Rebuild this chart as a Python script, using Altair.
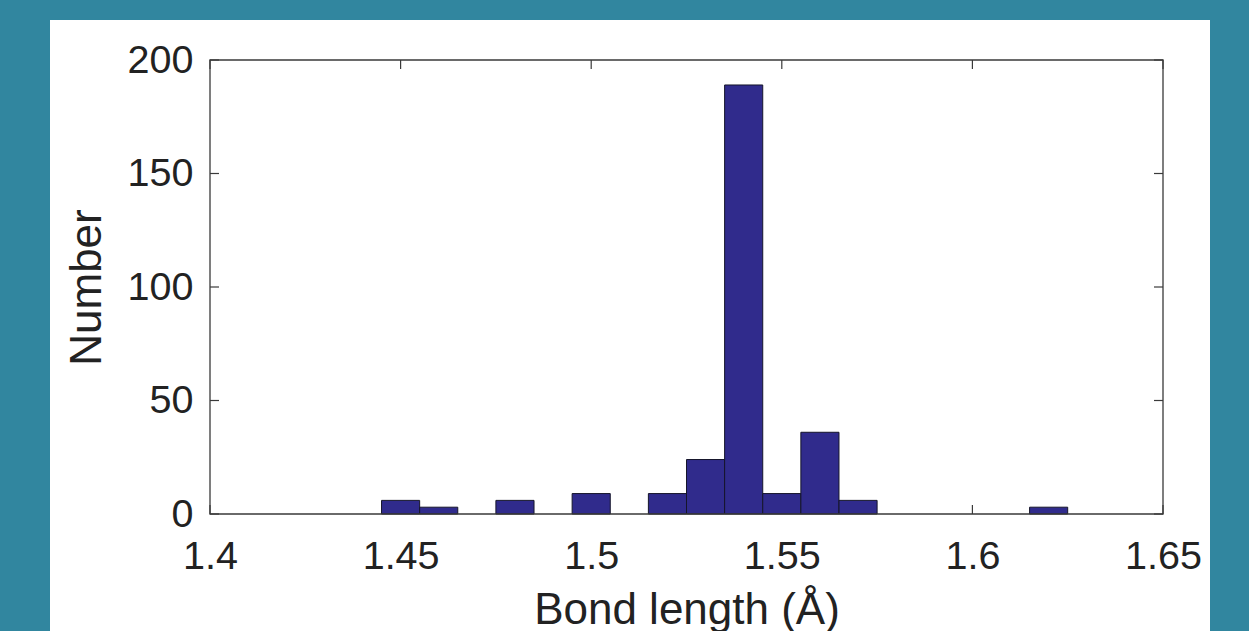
import altair as alt
import pandas as pd

# Histogram of bond lengths (bin edges in Å, counts)
bin_left = [1.445, 1.455, 1.475, 1.495, 1.515, 1.525, 1.535, 1.545, 1.555, 1.565, 1.615]
bin_right = [1.455, 1.465, 1.485, 1.505, 1.525, 1.535, 1.545, 1.555, 1.565, 1.575, 1.625]
counts = [6, 3, 6, 9, 9, 24, 189, 9, 36, 6, 3]

x_ticks = [1.4, 1.45, 1.5, 1.55, 1.6, 1.65]
y_ticks = [0, 50, 100, 150, 200]

W, H = 953, 454
TICK = 9
FONT = "Liberation Sans"
TEXT = "#222222"
AXIS_COL = "#3a3a3a"

bars_df = pd.DataFrame({"x": bin_left, "x2": bin_right, "count": counts})
xt_df = pd.DataFrame({"x": x_ticks})
yt_df = pd.DataFrame({"count": y_ticks})
one = alt.Data(values=[{"a": 1}])

xscale = alt.Scale(domain=[1.4, 1.65], nice=False, zero=False)
yscale = alt.Scale(domain=[0, 200], nice=False)

x_axis = alt.Axis(
    values=x_ticks, format=".2~f", title="Bond length (Å)",
    ticks=False, domain=False, grid=False, labelPadding=23,
    labelFlush=False, titleBaseline="alphabetic", titleY=109,
    titleX=W / 2, zindex=1,
)
y_axis = alt.Axis(
    values=y_ticks, title="Number", ticks=False, domain=False,
    grid=False, labelPadding=17, labelFlush=False,
    titleBaseline="alphabetic", titleX=-110, titleY=H / 2,
    titleAngle=-90, zindex=1,
)

X = alt.X("x:Q", scale=xscale, axis=x_axis)
Y = alt.Y("count:Q", scale=yscale, axis=y_axis)

panel = alt.Chart(one).mark_rect(fill="white").encode(
    x=alt.value(-160), x2=alt.value(1000), y=alt.value(-40), y2=alt.value(571)
)

tick_x_bottom = alt.Chart(xt_df).mark_rule(color=AXIS_COL, strokeWidth=1.2).encode(
    x=X, y=alt.value(H), y2=alt.value(H - TICK)
)
tick_x_top = alt.Chart(xt_df).mark_rule(color=AXIS_COL, strokeWidth=1.2).encode(
    x=X, y=alt.value(0), y2=alt.value(TICK)
)
tick_y_left = alt.Chart(yt_df).mark_rule(color=AXIS_COL, strokeWidth=1.2).encode(
    y=Y, x=alt.value(0), x2=alt.value(TICK)
)
tick_y_right = alt.Chart(yt_df).mark_rule(color=AXIS_COL, strokeWidth=1.2).encode(
    y=Y, x=alt.value(W), x2=alt.value(W - TICK)
)

bars = alt.Chart(bars_df).mark_rect(
    fill="#302b8c", stroke="#15152a", strokeWidth=1
).encode(
    x=X,
    x2="x2:Q",
    y=Y,
    y2=alt.datum(0),
)

frame = alt.Chart(one).mark_rect(
    filled=False, stroke=AXIS_COL, strokeWidth=1.3
).encode(x=alt.value(0), x2=alt.value(W), y=alt.value(0), y2=alt.value(H))

chart = alt.layer(
    panel, tick_x_bottom, tick_x_top, tick_y_left, tick_y_right, bars, frame
).properties(
    width=W, height=H,
    background="#31869f",
    padding={"left": 50, "top": 20, "right": 39, "bottom": 0},
).configure_view(stroke=None).configure_axis(
    labelFont=FONT, titleFont=FONT, labelFontSize=39.5, titleFontSize=44,
    labelColor=TEXT, titleColor=TEXT, titleFontWeight="normal",
)

chart.save("out.html", embed_options={"renderer": "svg", "actions": False})
